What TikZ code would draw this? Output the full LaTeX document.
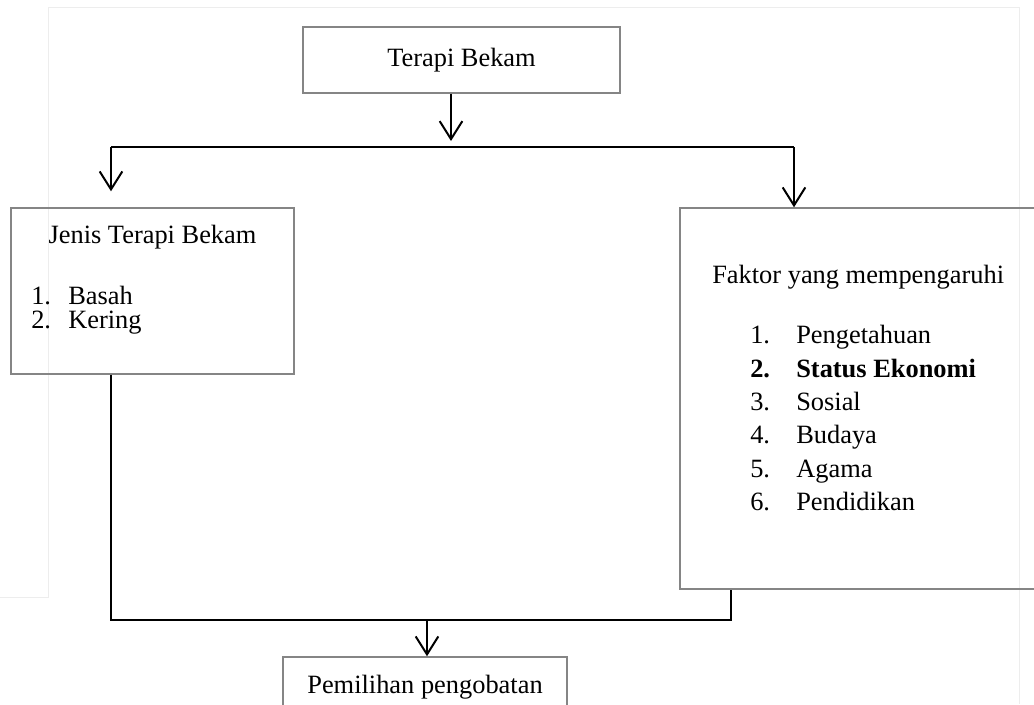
\documentclass[tikz,border=0pt]{standalone}
\usepackage{fontspec}
\setmainfont{Liberation Serif}
\usetikzlibrary{arrows.meta}

\def\px{0.75pt}

\begin{document}
\begin{tikzpicture}[x=0.75pt, y=-0.75pt,
  every node/.style={font=\fontsize{19.8}{24}\selectfont},
  box/.style={draw=black!48, line width=1.1pt, inner sep=0pt},
  txt/.style={inner sep=0pt, anchor=base west},
  line/.style={line width=1.5pt},
  arr/.style={line width=1.5pt, -{Straight Barb[length=13.5pt, width=17pt]}},
  faint/.style={draw=black!7, line width=0.75pt}]
  \useasboundingbox (0,0) rectangle (1034,704);
  \clip (0,0) rectangle (1034,704);

  % page frame
  \draw[faint] (0,597) -- (48,597) -- (48,7) -- (1019,7) -- (1019,704);

  % boxes
  \node[box, minimum width=317*\px, minimum height=66*\px] (bekam) at (461.5,60) {Terapi Bekam};
  \node[box, minimum width=283*\px, minimum height=166*\px] (jenis) at (152.5,291) {};
  \node[box, minimum width=360*\px, minimum height=381*\px] (faktor) at (860,398.5) {};
  \node[box, minimum width=284*\px, minimum height=60*\px] (pilih) at (425,687) {Pemilihan pengobatan};

  % left box text
  \node[txt, anchor=base] (jenisT) at (152.5,243) {Jenis Terapi Bekam};
  \node[txt] (jn1) at (31,304) {1.};
  \node[txt] (basah) at (68,304) {Basah};
  \node[txt] (jn2) at (31,328) {2.};
  \node[txt] (kering) at (68,328) {Kering};

  % right box text
  \node[txt] (faktorT) at (712,283) {Faktor yang mempengaruhi};
  \node[txt] (fn1) at (750,343) {1.};
  \node[txt] (tahu) at (796,343) {Pengetahuan};
  \node[txt] (fn2) at (750,377) {\bfseries 2.};
  \node[txt] (ekonomi) at (796,377) {\bfseries Status Ekonomi};
  \node[txt] (fn3) at (750,410) {3.};
  \node[txt] (sosial) at (796,410) {Sosial};
  \node[txt] (fn4) at (750,443) {4.};
  \node[txt] (budaya) at (796,443) {Budaya};
  \node[txt] (fn5) at (750,477) {5.};
  \node[txt] (agama) at (796,477) {Agama};
  \node[txt] (fn6) at (750,510) {6.};
  \node[txt] (didik) at (796,510) {Pendidikan};

  % split points
  \coordinate (split) at (451,147);
  \coordinate (lsplit) at (111,147);
  \coordinate (rsplit) at (794,147);
  \coordinate (lbot) at (111,620);
  \coordinate (rbot) at (731,620);
  \coordinate (join) at (427,620);

  % connectors
  \draw[arr, shorten >=4.5pt] (split |- bekam.south) -- (split);
  \draw[line] (lsplit) -- (rsplit);
  \draw[arr, shorten >=12pt] (lsplit) -- (lsplit |- jenis.north);
  \draw[arr] (rsplit) -- (rsplit |- faktor.north);
  \draw[line] (lbot |- jenis.south) -- (lbot) -- (rbot) -- (rbot |- faktor.south);
  \draw[arr] (join) -- (join |- pilih.north);
\end{tikzpicture}
\end{document}
